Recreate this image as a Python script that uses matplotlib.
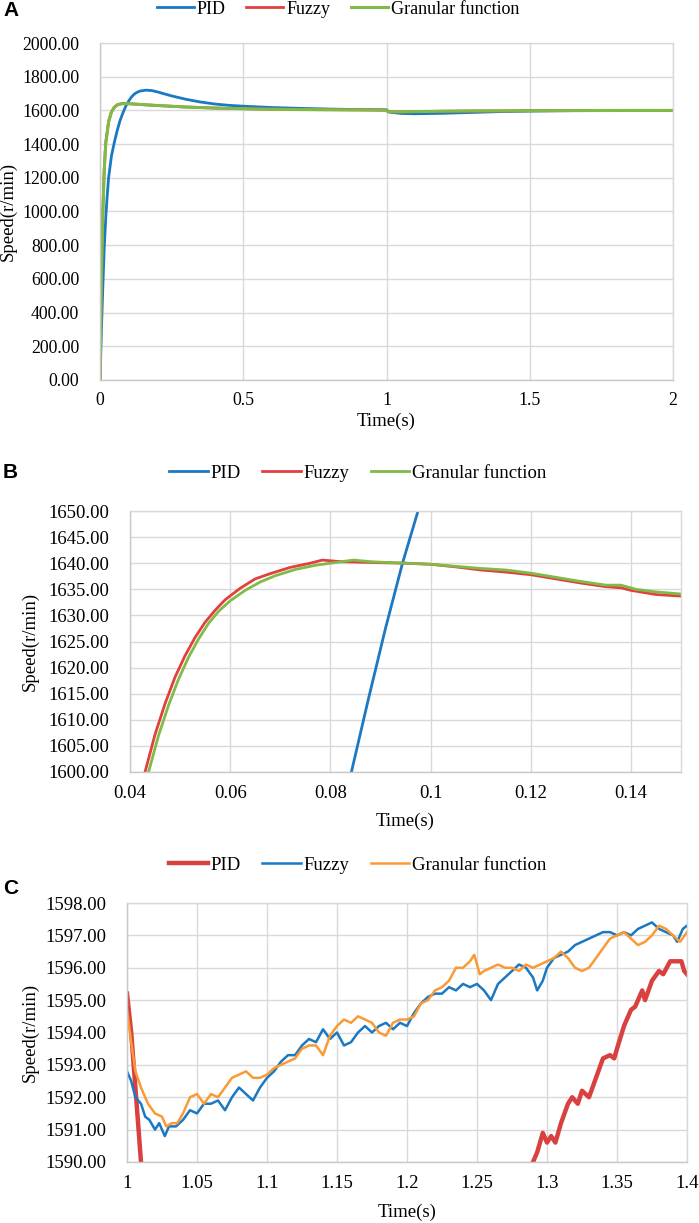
import matplotlib
matplotlib.use("Agg")
import matplotlib.pyplot as plt

# ---------------- Panel A data ----------------
a_pid_t = [0, 0.005, 0.01, 0.015, 0.02, 0.025, 0.03, 0.04, 0.05, 0.06, 0.07, 0.08, 0.09, 0.1,
           0.11, 0.12, 0.13, 0.14, 0.16, 0.18, 0.2, 0.25, 0.3, 0.35, 0.4, 0.45, 0.5, 0.6, 0.7,
           0.8, 0.9, 1.0, 1.01, 1.05, 1.1, 1.2, 1.3, 1.4, 1.5, 1.6, 1.8, 2.0]
a_pid_v = [0, 300, 560, 790, 960, 1090, 1200, 1330, 1410, 1480, 1540, 1585, 1625, 1655,
           1680, 1697, 1708, 1715, 1720, 1718, 1710, 1686, 1666, 1650, 1638, 1630, 1625, 1617, 1612,
           1608, 1605, 1603, 1590, 1582, 1580, 1583, 1588, 1593, 1596, 1598, 1600, 1600]
a_fuz_t = [0, 0.005, 0.01, 0.015, 0.02, 0.03, 0.04, 0.043, 0.05, 0.06, 0.07, 0.08, 0.1, 0.15,
           0.2, 0.3, 0.4, 0.5, 0.6, 0.7, 0.8, 0.9, 1.0, 1.005, 1.05, 1.1, 1.2, 1.3, 1.4, 1.5,
           1.6, 1.8, 2.0]
a_fuz_v = [0, 620, 1010, 1260, 1410, 1535, 1592, 1600, 1619, 1633, 1638, 1640.5, 1639.5, 1634,
           1629, 1620, 1614, 1610, 1607, 1605, 1604, 1603, 1602, 1592, 1591.5, 1593, 1595, 1596.5, 1597, 1598,
           1598.5, 1599.5, 1600]
a_gran_t = a_fuz_t
a_gran_v = [0, 600, 1000, 1250, 1400, 1530, 1590, 1598, 1617, 1632, 1637.5, 1640, 1640, 1634.5,
            1629, 1620, 1614, 1610, 1607, 1605, 1604, 1603, 1602, 1592, 1591.5, 1593, 1595, 1596.5, 1597, 1598,
            1598.5, 1599.5, 1600]

# ---------------- Panel B data ----------------
b_pid_t = [0.08, 0.0842, 0.0876, 0.091, 0.0944, 0.0975, 0.1]
b_pid_v = [1583, 1600, 1614, 1627.5, 1640, 1650, 1658]
b_fuz_t = [0.041, 0.043, 0.045, 0.047, 0.049, 0.051, 0.053, 0.055, 0.057, 0.059, 0.062,
           0.065, 0.068, 0.072, 0.076, 0.0784, 0.082, 0.086, 0.09, 0.095, 0.1,
           0.105, 0.11, 0.115, 0.12, 0.125, 0.13, 0.135, 0.138, 0.14, 0.145, 0.15]
b_fuz_v = [1592.5, 1600, 1607.2, 1613.1, 1618.2, 1622.3, 1625.8, 1628.7, 1631.0, 1633.0, 1635.2,
           1637.0, 1638.0, 1639.2, 1640.0, 1640.6, 1640.3, 1640.2, 1640.1, 1640.0, 1639.8,
           1639.3, 1638.7, 1638.3, 1637.8, 1637.0, 1636.2, 1635.5, 1635.3, 1634.8, 1634.0, 1633.7]
b_gran_t = [0.0417, 0.0437, 0.0457, 0.0477, 0.0497, 0.0517, 0.0537, 0.0557, 0.0577, 0.060, 0.063,
            0.066, 0.069, 0.073, 0.077, 0.080, 0.0846, 0.088, 0.09, 0.095, 0.1, 0.105,
            0.11, 0.115, 0.12, 0.125, 0.13, 0.135, 0.138, 0.141, 0.145, 0.15]
b_gran_v = [1593, 1600, 1607, 1612.8, 1617.8, 1622, 1625.5, 1628.5, 1630.8, 1632.8, 1634.8,
            1636.4, 1637.6, 1638.8, 1639.6, 1640.0, 1640.6, 1640.3, 1640.2, 1640.0, 1639.8, 1639.4,
            1639.0, 1638.7, 1638.1, 1637.3, 1636.5, 1635.8, 1635.8, 1635.0, 1634.5, 1634.1]

# ---------------- Panel C data ----------------
c_pid_t = [1.0, 1.003, 1.006, 1.01, 1.013,
           1.288, 1.29, 1.293, 1.297, 1.3, 1.303, 1.306, 1.31, 1.315, 1.318, 1.322, 1.325, 1.33,
           1.335, 1.34, 1.345, 1.348, 1.35, 1.355, 1.36, 1.363, 1.368, 1.37, 1.375, 1.38, 1.383,
           1.388, 1.392, 1.396, 1.398, 1.4]
c_pid_v = [1595.2, 1594.0, 1592.3, 1590.0, 1588.8,
           1589.8, 1590.0, 1590.3, 1590.9, 1590.6, 1590.8, 1590.6, 1591.2, 1591.8, 1592.0, 1591.8, 1592.2, 1592.0,
           1592.6, 1593.2, 1593.3, 1593.2, 1593.5, 1594.2, 1594.7, 1594.8, 1595.3, 1595.0, 1595.6, 1595.9, 1595.8,
           1596.2, 1596.2, 1596.2, 1595.9, 1595.8]
c_fuz_t = [1.0, 1.003, 1.006, 1.01, 1.013, 1.016, 1.02, 1.023, 1.027, 1.03, 1.035, 1.04, 1.045,
           1.05, 1.055, 1.06, 1.065, 1.07, 1.075, 1.08, 1.085, 1.09, 1.095, 1.1, 1.105, 1.11,
           1.115, 1.12, 1.125, 1.13, 1.135, 1.14, 1.145, 1.15, 1.155, 1.16, 1.165, 1.17, 1.175,
           1.18, 1.185, 1.19, 1.195, 1.2, 1.205, 1.21, 1.215, 1.22, 1.225, 1.23, 1.235, 1.24,
           1.245, 1.25, 1.255, 1.26, 1.265, 1.27, 1.275, 1.28, 1.285, 1.29, 1.293, 1.297, 1.3,
           1.305, 1.31, 1.315, 1.32, 1.325, 1.33, 1.335, 1.34, 1.345, 1.35, 1.355, 1.36, 1.365,
           1.37, 1.375, 1.38, 1.385, 1.39, 1.393, 1.397, 1.4]
c_fuz_v = [1592.8, 1592.5, 1592.0, 1591.8, 1591.4, 1591.3, 1591.0, 1591.2, 1590.8, 1591.1, 1591.1, 1591.3, 1591.6,
           1591.5, 1591.8, 1591.8, 1591.9, 1591.6, 1592.0, 1592.3, 1592.1, 1591.9, 1592.3, 1592.6, 1592.8, 1593.1,
           1593.3, 1593.3, 1593.6, 1593.8, 1593.7, 1594.1, 1593.8, 1594.0, 1593.6, 1593.7, 1594.0, 1594.2, 1594.0,
           1594.2, 1594.3, 1594.1, 1594.3, 1594.2, 1594.6, 1594.9, 1595.1, 1595.2, 1595.2, 1595.4, 1595.3, 1595.5,
           1595.4, 1595.5, 1595.3, 1595.0, 1595.5, 1595.7, 1595.9, 1596.1, 1596.0, 1595.7, 1595.3, 1595.6, 1596.0,
           1596.3, 1596.4, 1596.5, 1596.7, 1596.8, 1596.9, 1597.0, 1597.1, 1597.1, 1597.0, 1597.1, 1597.0, 1597.2,
           1597.3, 1597.4, 1597.2, 1597.1, 1597.0, 1596.8, 1597.2, 1597.3]
c_gran_t = [1.0, 1.003, 1.006, 1.01, 1.015, 1.02, 1.025, 1.028, 1.032, 1.036, 1.04, 1.045, 1.05,
            1.055, 1.06, 1.065, 1.07, 1.075, 1.08, 1.085, 1.09, 1.095, 1.1, 1.105, 1.11, 1.115,
            1.12, 1.125, 1.13, 1.135, 1.14, 1.145, 1.15, 1.155, 1.16, 1.165, 1.17, 1.175, 1.18,
            1.185, 1.19, 1.195, 1.2, 1.205, 1.21, 1.215, 1.22, 1.225, 1.23, 1.235, 1.24, 1.245,
            1.248, 1.252, 1.255, 1.26, 1.265, 1.27, 1.275, 1.28, 1.285, 1.29, 1.295, 1.3, 1.305,
            1.31, 1.315, 1.32, 1.325, 1.33, 1.335, 1.34, 1.345, 1.35, 1.355, 1.36, 1.365, 1.37,
            1.375, 1.38, 1.385, 1.39, 1.395, 1.4]
c_gran_v = [1594.7, 1593.7, 1592.8, 1592.3, 1591.8, 1591.5, 1591.4, 1591.1, 1591.2, 1591.2, 1591.5, 1592.0, 1592.1,
            1591.8, 1592.1, 1592.0, 1592.3, 1592.6, 1592.7, 1592.8, 1592.6, 1592.6, 1592.7, 1592.9, 1593.0, 1593.1,
            1593.2, 1593.5, 1593.6, 1593.6, 1593.3, 1593.9, 1594.2, 1594.4, 1594.3, 1594.5, 1594.4, 1594.3, 1594.0,
            1593.9, 1594.3, 1594.4, 1594.4, 1594.5, 1594.9, 1595.0, 1595.3, 1595.4, 1595.6, 1596.0, 1596.0, 1596.2,
            1596.4, 1595.8, 1595.9, 1596.0, 1596.1, 1596.0, 1596.0, 1595.9, 1596.1, 1596.0, 1596.1, 1596.2, 1596.3,
            1596.5, 1596.3, 1596.0, 1595.9, 1596.0, 1596.3, 1596.6, 1596.9, 1597.0, 1597.1, 1596.9, 1596.7, 1596.8,
            1597.0, 1597.3, 1597.2, 1597.0, 1596.8, 1597.1]

a_xticks = [0, 0.5, 1, 1.5, 2]
a_xlabels = ["0", "0.5", "1", "1.5", "2"]
a_yticks = [0, 200, 400, 600, 800, 1000, 1200, 1400, 1600, 1800, 2000]
b_xticks = [0.04, 0.06, 0.08, 0.1, 0.12, 0.14]
b_xlabels = ["0.04", "0.06", "0.08", "0.1", "0.12", "0.14"]
b_yticks = [1600, 1605, 1610, 1615, 1620, 1625, 1630, 1635, 1640, 1645, 1650]
c_xticks = [1, 1.05, 1.1, 1.15, 1.2, 1.25, 1.3, 1.35, 1.4]
c_xlabels = ["1", "1.05", "1.1", "1.15", "1.2", "1.25", "1.3", "1.35", "1.4"]
c_yticks = [1590, 1591, 1592, 1593, 1594, 1595, 1596, 1597, 1598]
series_names = ["PID", "Fuzzy", "Granular function"]

BLUE = "#1B78C2"
RED = "#E2403F"
GREEN = "#80BB47"
ORANGE = "#FA9A35"
RED_C = "#D94141"
GRID = "#D9D9D9"

plt.rcParams['font.family'] = ['Liberation Serif', 'DejaVu Serif']
W, H = 699, 1223
fig = plt.figure(figsize=(W / 100, H / 100), dpi=100)


def box(l, r, t, b):
    return [l / W, 1 - b / H, (r - l) / W, (b - t) / H]


def style(ax, xt, yt, xl, yl, xlabels, px, tick_fs, ylab_x, xlab_y):
    l, r, t, b = px
    ax.set_xlim(*xl)
    ax.set_ylim(*yl)
    ax.set_xticks(xt)
    ax.set_xticklabels(xlabels)
    ax.set_yticks(yt)
    ax.set_yticklabels([f"{v:.2f}" for v in yt])
    ax.grid(True, color=GRID, linewidth=1.0)
    ax.set_axisbelow(True)
    for s in ax.spines.values():
        s.set_color(GRID)
        s.set_linewidth(1.0)
    ax.spines['bottom'].set_color("#C8C8C8")
    ax.spines['left'].set_color("#C8C8C8")
    ax.tick_params(axis='y', length=0, labelsize=tick_fs, pad=15)
    ax.tick_params(axis='x', length=0, labelsize=tick_fs, pad=9)
    ax.set_ylabel("Speed(r/min)", fontsize=13.5)
    ax.set_xlabel("Time(s)", fontsize=13.5)
    ax.yaxis.set_label_coords((ylab_x - l) / (r - l), 0.5)
    ax.xaxis.set_label_coords(0.5, (b - xlab_y) / (b - t))
    ax.xaxis.label.set_va('center')
    ax.yaxis.label.set_va('center')


def legend(ax, cx, cy, fs):
    ax.legend(loc="center", bbox_to_anchor=(cx / W, 1 - cy / H), bbox_transform=fig.transFigure,
              ncol=3, frameon=False, fontsize=fs, handlelength=2.05, handletextpad=0.15,
              columnspacing=1.15, borderpad=0)


# Panel A
pxA = (100, 673, 43, 380)
axA = fig.add_axes(box(*pxA))
axA.plot(a_pid_t, a_pid_v, color=BLUE, lw=2.0, label=series_names[0])
axA.plot(a_fuz_t, a_fuz_v, color=RED, lw=2.0, label=series_names[1])
axA.plot(a_gran_t, a_gran_v, color=GREEN, lw=2.2, label=series_names[2])
style(axA, a_xticks, a_yticks, (0, 2), (0, 2000), a_xlabels, pxA, 12.8, 8, 421)
legend(axA, 338, 9, 13)

# Panel B
pxB = (130, 681, 511, 772)
axB = fig.add_axes(box(*pxB))
axB.plot(b_pid_t, b_pid_v, color=BLUE, lw=2.0, label=series_names[0])
axB.plot(b_fuz_t, b_fuz_v, color=RED, lw=2.0, label=series_names[1])
axB.plot(b_gran_t, b_gran_v, color=GREEN, lw=2.0, label=series_names[2])
style(axB, b_xticks, b_yticks, (0.04, 0.15), (1600, 1650), b_xlabels, pxB, 13.5, 30, 821)
legend(axB, 358, 473, 13.5)

# Panel C
pxC = (127, 687, 903, 1162)
axC = fig.add_axes(box(*pxC))
axC.plot(c_pid_t[:5], c_pid_v[:5], color=RED_C, lw=3.2, label=series_names[0])
axC.plot(c_pid_t[5:], c_pid_v[5:], color=RED_C, lw=3.2)
axC.plot(c_fuz_t, c_fuz_v, color=BLUE, lw=1.8, label=series_names[1])
axC.plot(c_gran_t, c_gran_v, color=ORANGE, lw=1.8, label=series_names[2])
style(axC, c_xticks, c_yticks, (1.0, 1.4), (1590, 1598), c_xlabels, pxC, 13.5, 30, 1212)
legend(axC, 358, 865, 13.5)

# Panel letters
for letter, y in [("A", 11), ("B", 473), ("C", 888)]:
    fig.text(3 / W, 1 - y / H, letter, fontsize=15, fontweight="bold",
             family=["Liberation Sans", "DejaVu Sans"], va="center", ha="left")

fig.savefig("out.png", dpi=100)
